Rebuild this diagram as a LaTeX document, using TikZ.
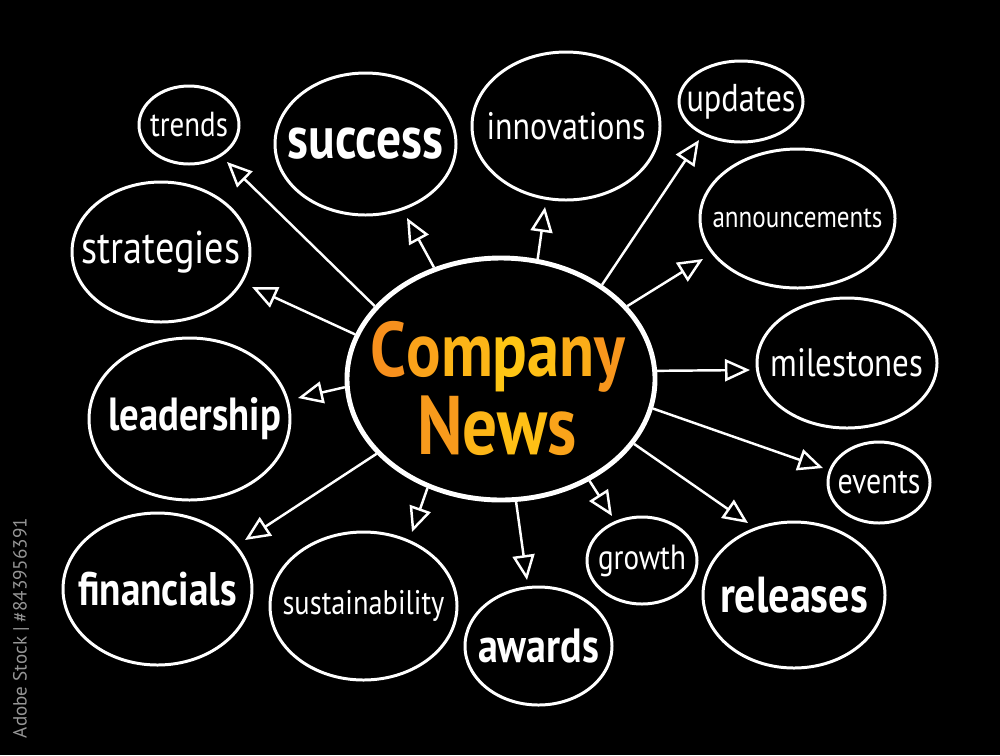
\documentclass[tikz,border=0pt]{standalone}
\usepackage{fontspec}
\setmainfont{PT Sans}
\usepackage{graphicx}
\usetikzlibrary{arrows.meta,shapes.geometric}
\definecolor{cO}{RGB}{246,138,30}
\definecolor{cY}{RGB}{255,200,20}
\definecolor{wmgray}{RGB}{150,150,150}
\newcommand\gc[2]{\textcolor{cY!#1!cO}{#2}}
\newcommand\lbl[2]{\scalebox{1}[1.2]{\resizebox{#1cm}{!}{#2}}}
\begin{document}
\begin{tikzpicture}[x=0.02cm,y=-0.02cm,
  bub/.style n args={2}{draw=white, line width=1.7pt, ellipse, minimum width=#1*0.02cm, minimum height=#2*0.02cm, inner sep=0pt},
  txt/.style={text=white, inner sep=0pt},
  arr/.style={draw=white, line width=1.4pt, -{Triangle[open,length=0.5cm,width=0.44cm]}}]
\fill[black] (0,0) rectangle (1000,755);
\useasboundingbox (0,0) rectangle (1000,755);

% centre
\node[bub={308}{242}, line width=2.8pt] (c) at (501,379) {};
\node[inner sep=0pt] (cTop) at (498,357)
  {\lbl{5.1}{\bfseries\gc{10}{C}\gc{40}{o}\gc{70}{m}\gc{95}{p}\gc{85}{a}\gc{55}{n}\gc{20}{y}}};
\node[inner sep=0pt] (cBot) at (497,426)
  {\lbl{3.2}{\bfseries\gc{25}{N}\gc{70}{e}\gc{85}{w}\gc{40}{s}}};

% outer bubbles
\node[bub={100}{78},  label={[txt]center:\lbl{1.56}{trends}}]            (trends)   at (189,125)   {};
\node[bub={181}{142}, label={[txt]center:\lbl{3.12}{\bfseries success}}] (success)  at (365.5,144) {};
\node[bub={188}{148}, label={[txt]center:\lbl{3.18}{innovations}}]       (innov)    at (566,126)   {};
\node[bub={124}{81},  label={[txt]center:\lbl{2.18}{updates}}]           (updates)  at (741,101.5) {};
\node[bub={195}{139}, label={[txt]center:\lbl{3.4}{announcements}}]      (announce) at (797.5,218.5) {};
\node[bub={178}{140}, label={[txt]center:\lbl{3.18}{strategies}}]        (strat)    at (161,252)   {};
\node[bub={180}{130}, label={[txt]center:\lbl{3.06}{milestones}}]        (miles)    at (847,363)   {};
\node[bub={201}{162}, label={[txt,xshift=0.1cm]center:\lbl{3.46}{\bfseries leadership}}] (lead) at (189.5,419) {};
\node[bub={102}{81},  label={[txt]center:\lbl{1.66}{events}}]            (events)   at (879,482.5) {};
\node[bub={189}{152}, label={[txt]center:\lbl{3.18}{\bfseries financials}}] (fin)   at (157.5,589) {};
\node[bub={187}{148}, label={[txt]center:\lbl{3.24}{sustainability}}]    (sustain)  at (363.5,606) {};
\node[bub={147}{118}, label={[txt]center:\lbl{2.42}{\bfseries awards}}]  (awards)   at (538.5,646) {};
\node[bub={110}{87},  label={[txt]center:\lbl{1.76}{growth}}]            (growth)   at (642,560.5) {};
\node[bub={182}{146}, label={[txt]center:\lbl{2.96}{\bfseries releases}}] (releases) at (794,595)  {};

% arrow tips
\coordinate (tTrends)   at (227,162);
\coordinate (tSuccess)  at (407,218);
\coordinate (tInnov)    at (545,207);
\coordinate (tUpdates)  at (699,140);
\coordinate (tAnnounce) at (703,259);
\coordinate (tStrat)    at (252,287);
\coordinate (tMiles)    at (750,370);
\coordinate (tLead)     at (298,398);
\coordinate (tEvents)   at (823,468);
\coordinate (tFin)      at (245,540);
\coordinate (tSustain)  at (412,532);
\coordinate (tAwards)   at (527,580);
\coordinate (tGrowth)   at (612,516);
\coordinate (tReleases) at (748,523);

\draw[arr] (c.150.6) -- (tTrends);
\draw[arr] (c.121) -- (tSuccess);
\draw[arr] (c.73.6) -- (tInnov);
\draw[arr] (c.43.6) -- (tUpdates);
\draw[arr] (c.30.9) -- (tAnnounce);
\draw[arr] (c.163.5) -- (tStrat);
\draw[arr] (c.3.3) -- (tMiles);
\draw[arr] (c.183) -- (tLead);
\draw[arr] (c.-11.8) -- (tEvents);
\draw[arr] (c.211) -- (tFin);
\draw[arr] (c.236) -- (tSustain);
\draw[arr] (c.277.4) -- (tAwards);
\draw[arr] (c.311.4) -- (tGrowth);
\draw[arr] (c.334.8) -- (tReleases);

% side credit
\node[rotate=90, text=wmgray, inner sep=0pt] (credit) at (21,628) {\resizebox{4.4cm}{!}{Adobe Stock \textbar{} \#843956391}};
\end{tikzpicture}
\end{document}
